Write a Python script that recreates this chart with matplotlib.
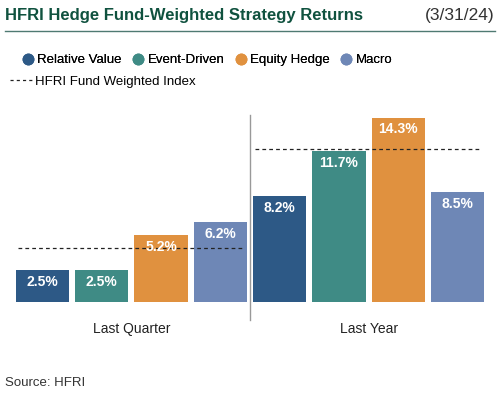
import matplotlib.pyplot as plt
from matplotlib.lines import Line2D

plt.rcParams['font.family'] = ['Liberation Sans', 'DejaVu Sans']

# data
periods = ['Last Quarter', 'Last Year']
strategies = ['Relative Value', 'Event-Driven', 'Equity Hedge', 'Macro']
returns = {
    'Last Quarter': [2.5, 2.5, 5.2, 6.2],
    'Last Year': [8.2, 11.7, 14.3, 8.5],
}
index_returns = [4.2, 11.9]
colors = ['#2d5986', '#3f8b85', '#e0913f', '#6e87b6']

fig = plt.figure(figsize=(5.0, 3.98), dpi=100)
ax = fig.add_axes([0, 0.241, 1, 0.486])
ax.set_xlim(-0.717, 7.717)
ax.set_ylim(0, 15)

for g, period in enumerate(periods):
    xs = [g * 4 + i for i in range(4)]
    bars = ax.bar(xs, returns[period], width=0.9, color=colors, zorder=2)
    for b, v in zip(bars, returns[period]):
        ax.annotate(f'{v:.1f}%', (b.get_x() + b.get_width() / 2, v),
                    xytext=(0, -8.5), textcoords='offset points',
                    ha='center', va='center', color='white',
                    fontsize=10, fontweight='bold', zorder=4)
    ax.plot([xs[0] - 0.42, xs[-1] + 0.38], [index_returns[g]] * 2,
            ls=(0, (3, 2.5)), color='#222222', lw=0.9, zorder=3)

# divider between the two groups
ax.plot([3.5, 3.5], [-1.4, 14.5], color='#999999', lw=1, clip_on=False)

ax.set_xticks([1.5, 5.5])
ax.set_xticklabels(periods, fontsize=10, color='#222222')
ax.tick_params(axis='x', length=0, pad=14)
ax.set_yticks([])
for s in ax.spines.values():
    s.set_visible(False)

# header
fig.text(0.01, 0.962, 'HFRI Hedge Fund-Weighted Strategy Returns',
         fontsize=12, fontweight='bold', color='#10523f', va='center')
fig.text(0.988, 0.962, '(3/31/24)', fontsize=12.5, color='#333333',
         ha='right', va='center')
fig.add_artist(Line2D([0.01, 0.99], [0.922, 0.922], color='#4f7a72', lw=1))

handles = [Line2D([], [], marker='o', ls='', color=c, markersize=7.5)
           for c in colors]
leg1 = fig.legend(handles, strategies, loc='center left',
                  bbox_to_anchor=(0.043, 0.849), ncol=4, frameon=False,
                  fontsize=9.5, handletextpad=0.2, columnspacing=0.75,
                  handlelength=1.0, borderaxespad=0, borderpad=0)
fig.add_artist(leg1)
idx_handle = Line2D([], [], ls=(0, (2.5, 2.5)), color='#222222', lw=0.9)
fig.legend([idx_handle], ['HFRI Fund Weighted Index'], loc='center left',
           bbox_to_anchor=(0.02, 0.794), frameon=False, fontsize=9.5,
           handlelength=1.7, handletextpad=0.2, borderaxespad=0, borderpad=0)

fig.text(0.01, 0.038, 'Source: HFRI', fontsize=9.5, color='#333333',
         va='center')

fig.savefig('out.png', dpi=100)
